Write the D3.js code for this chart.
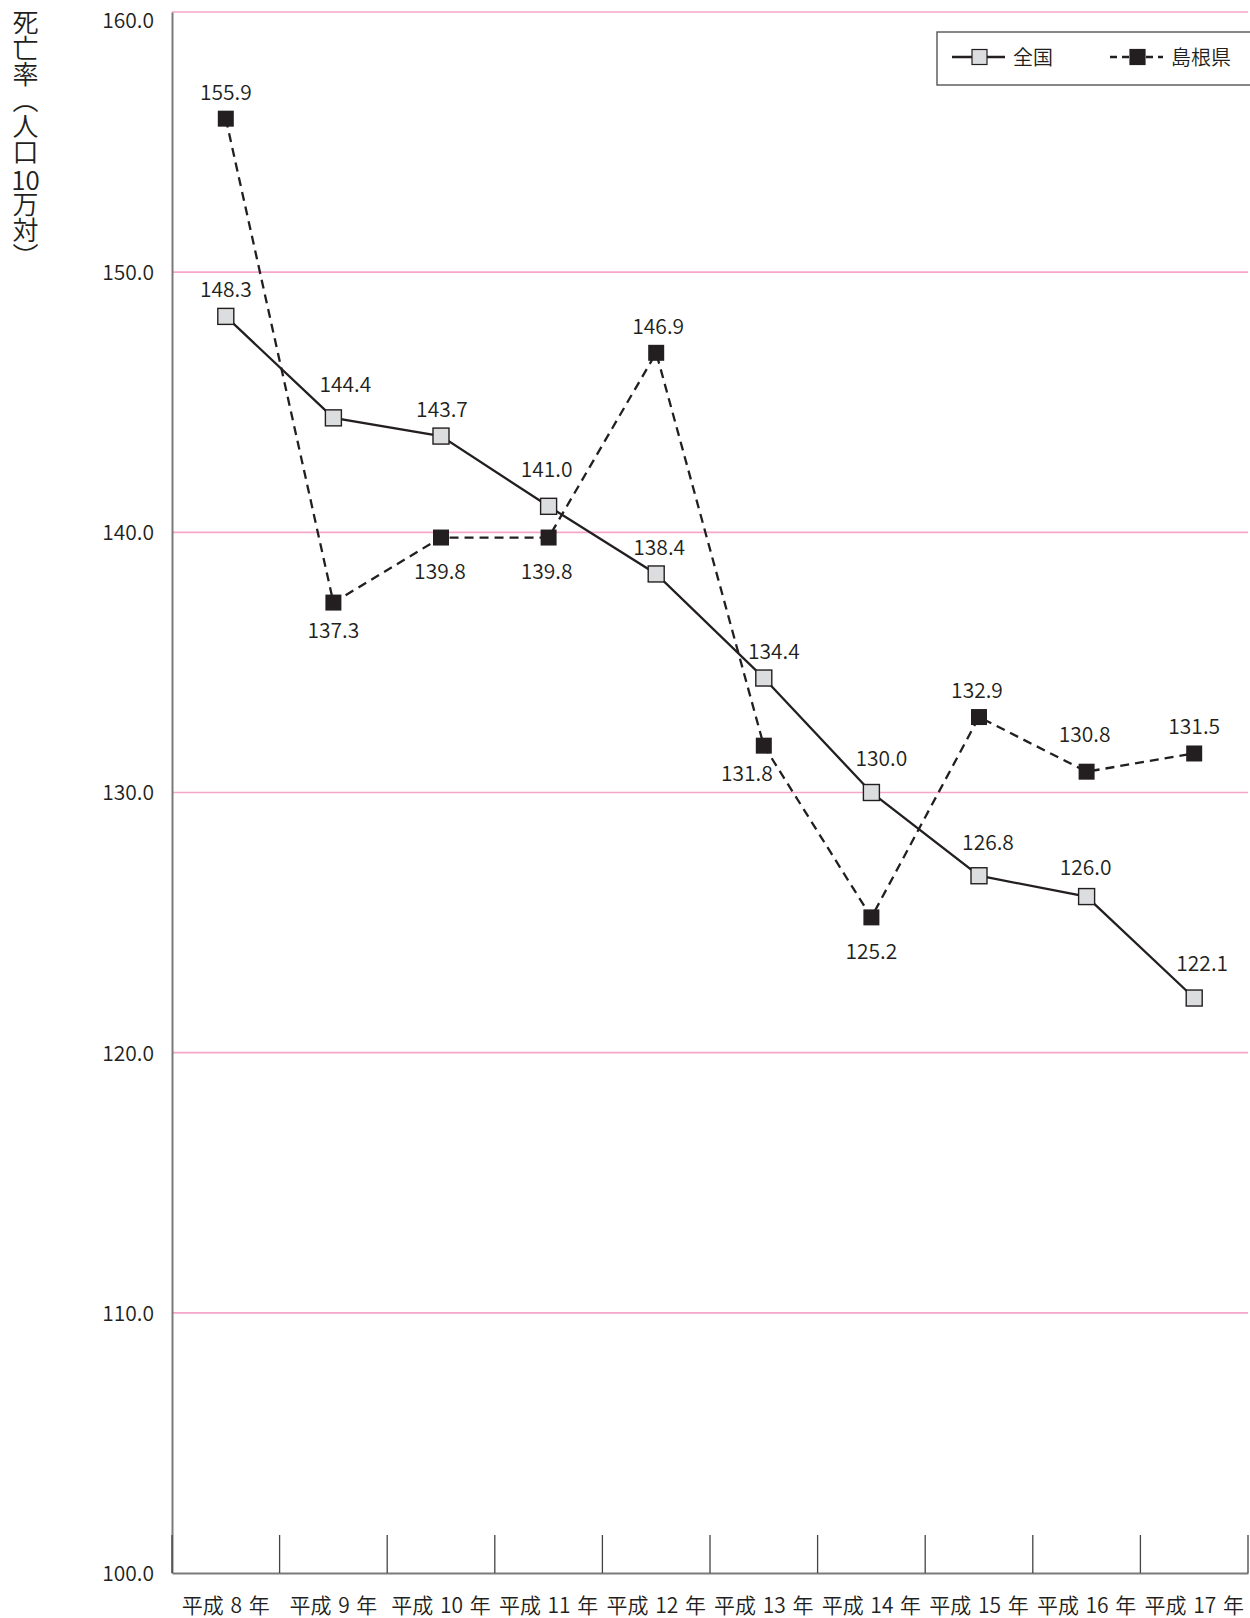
<!DOCTYPE html>
<html>
<head>
<meta charset="utf-8">
<script src="https://cdn.jsdelivr.net/npm/d3@7"></script>
<style>
    body { margin: 0; background: #fff; }
    #wrap { position: relative; width: 1250px; height: 1618px; overflow: hidden; }
    #ytitle {
        position: absolute; left: 12px; top: 9px;
        writing-mode: vertical-rl; font-family: "Noto Sans CJK JP", sans-serif;
        font-weight: 350;
        font-size: 26px; color: #231f20; line-height: 1;
    }
    #ytitle .tcy { text-combine-upright: all; }
    svg { position: absolute; left: 0; top: 0; }
    svg text { font-family: "Noto Sans CJK JP", sans-serif; font-weight: 350; fill: #231f20; }
</style>
</head>
<body>
<div id="wrap">
<div id="ytitle">死亡率（人口<span class="tcy">10</span>万対）</div>
<svg id="chart" width="1250" height="1618"></svg>
</div>
<script>
const years = ["平成 8 年", "平成 9 年", "平成 10 年", "平成 11 年", "平成 12 年",
    "平成 13 年", "平成 14 年", "平成 15 年", "平成 16 年", "平成 17 年"];
const zenkoku = [148.3, 144.4, 143.7, 141.0, 138.4, 134.4, 130.0, 126.8, 126.0, 122.1];
const shimane = [155.9, 137.3, 139.8, 139.8, 146.9, 131.8, 125.2, 132.9, 130.8, 131.5];
const yTicks = [100, 110, 120, 130, 140, 150, 160];

// value label nudges relative to each marker (dx, dy)
const zenkokuDx = [0, 12, 1, -2, 3, 10, 10, 9, -1, 8];
const zenkokuDy = [-19, -26, -19, -29, -19, -19, -27, -26, -22, -27];
const shimaneDx = [0, 0, -1, -2, 2, -17, 0, -2, -2, 0];
const shimaneDy = [-19, 35, 41, 41, -19, 35, 42, -19, -30, -19];

const margin = { top: 12, right: 2, bottom: 45, left: 172 };
const width = 1250 - margin.left - margin.right,
    height = 1618 - margin.top - margin.bottom;

const svg = d3.select("#chart").append("g")
    .attr("transform", "translate(" + margin.left + "," + margin.top + ")");

const x = d3.scaleBand().domain(years).range([0, width]);
const y = d3.scaleLinear().domain([100, 160]).range([height, 0]);
const cx = (d, i) => x(years[i]) + x.bandwidth() / 2;

// grid
svg.append("g").selectAll("line")
    .data(yTicks.filter(d => d > 100))
    .enter().append("line")
    .attr("x1", 0).attr("x2", width)
    .attr("y1", d => y(d)).attr("y2", d => y(d))
    .style("stroke", "#f5a6ca").style("stroke-width", 1.6);

// y axis
const yAxis = d3.axisLeft(y).tickValues(yTicks).tickFormat(d3.format(".1f")).tickSize(0).tickPadding(18);
const yG = svg.append("g").call(yAxis);
yG.select(".domain").style("stroke", "#7a7a7a").style("stroke-width", 2);
yG.selectAll("text").style("font-size", "21px").attr("font-family", null)
    .attr("dy", d => d === 160 ? "0.72em" : "0.35em");

// x axis
const xAxis = d3.axisBottom(x).tickSize(0).tickPadding(25);
const xG = svg.append("g").attr("transform", "translate(0," + height + ")").call(xAxis);
xG.select(".domain").style("stroke", "#7a7a7a").style("stroke-width", 2);
xG.selectAll("text").style("font-size", "21px").attr("font-family", null)
    .style("word-spacing", "2px");

// category separators
svg.append("g").selectAll("line")
    .data(years.concat(["end"]))
    .enter().append("line")
    .attr("x1", (d, i) => i * x.bandwidth()).attr("x2", (d, i) => i * x.bandwidth())
    .attr("y1", height - 38).attr("y2", height)
    .style("stroke", "#444").style("stroke-width", 1.3);

const line = d3.line().x(cx).y(d => y(d));

// series
svg.append("path").datum(shimane)
    .attr("d", line).attr("fill", "none")
    .style("stroke", "#231f20").style("stroke-width", 2.3).style("stroke-dasharray", "9,6");
svg.append("path").datum(zenkoku)
    .attr("d", line).attr("fill", "none")
    .style("stroke", "#231f20").style("stroke-width", 2.3);

const sz = 16;
svg.append("g").selectAll("rect").data(zenkoku).enter().append("rect")
    .attr("x", (d, i) => cx(d, i) - sz / 2).attr("y", d => y(d) - sz / 2)
    .attr("width", sz).attr("height", sz)
    .style("fill", "#dcddde").style("stroke", "#231f20").style("stroke-width", 1.4);
svg.append("g").selectAll("rect").data(shimane).enter().append("rect")
    .attr("x", (d, i) => cx(d, i) - sz / 2).attr("y", d => y(d) - sz / 2)
    .attr("width", sz).attr("height", sz)
    .style("fill", "#231f20");

// value labels
function labels(data, dxs, dys) {
    svg.append("g").selectAll("text").data(data).enter().append("text")
        .attr("x", (d, i) => cx(d, i) + dxs[i])
        .attr("y", (d, i) => y(d) + dys[i])
        .attr("text-anchor", "middle")
        .style("font-size", "21px")
        .text(d => d.toFixed(1));
}
labels(zenkoku, zenkokuDx, zenkokuDy);
labels(shimane, shimaneDx, shimaneDy);

// legend
const lg = svg.append("g").attr("transform", "translate(" + (937 - margin.left) + "," + (32 - margin.top) + ")");
lg.append("rect").attr("width", 360).attr("height", 53)
    .style("fill", "#fff").style("stroke", "#555").style("stroke-width", 1.4);
const items = [
    { name: "全国", x: 15, fill: "#dcddde", dash: null },
    { name: "島根県", x: 173, fill: "#231f20", dash: "7,5" }
];
items.forEach(it => {
    lg.append("line").attr("x1", it.x).attr("x2", it.x + 53).attr("y1", 25).attr("y2", 25)
        .style("stroke", "#231f20").style("stroke-width", 2.3).style("stroke-dasharray", it.dash);
    lg.append("rect").attr("x", it.x + 20).attr("y", 17.5).attr("width", 15).attr("height", 15)
        .style("fill", it.fill).style("stroke", "#231f20").style("stroke-width", 1.2);
    lg.append("text").attr("x", it.x + 61).attr("y", 33).style("font-size", "20px").text(it.name);
});
</script>
</body>
</html>
